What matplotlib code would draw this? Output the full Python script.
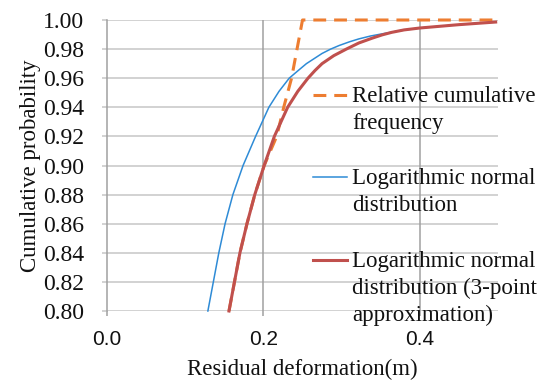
import numpy as np
import matplotlib
matplotlib.use('Agg')
from matplotlib import pyplot as plt
from matplotlib.lines import Line2D

# data
freq_x = [0.156, 0.163, 0.170, 0.179, 0.189, 0.201, 0.209, 0.217, 0.226, 0.236, 0.243, 0.250, 0.500]
freq_y = [0.80, 0.82, 0.84, 0.86, 0.88, 0.90, 0.91, 0.92, 0.94, 0.96, 0.98, 1.00, 1.00]

logn_x = [0.129, 0.136, 0.143, 0.151, 0.161, 0.174, 0.190, 0.207, 0.220, 0.233, 0.245, 0.255, 0.265,
          0.275, 0.286, 0.297, 0.310, 0.322, 0.337, 0.352, 0.375, 0.400, 0.450, 0.497]
logn_y = [0.80, 0.82, 0.84, 0.86, 0.88, 0.90, 0.92, 0.94, 0.951, 0.960, 0.9655, 0.970, 0.9735,
          0.977, 0.980, 0.9825, 0.985, 0.987, 0.989, 0.9905, 0.9927, 0.9945, 0.9968, 0.9986]

logn3_x = [0.156, 0.163, 0.170, 0.179, 0.189, 0.201, 0.214, 0.231, 0.244, 0.257, 0.266, 0.275, 0.290,
           0.306, 0.322, 0.339, 0.352, 0.364, 0.380, 0.400, 0.450, 0.497]
logn3_y = [0.80, 0.82, 0.84, 0.86, 0.88, 0.90, 0.92, 0.94, 0.951, 0.960, 0.9653, 0.970, 0.9755,
           0.980, 0.9842, 0.9875, 0.9898, 0.9915, 0.9932, 0.9945, 0.9968, 0.9986]

x_ticks = [0.0, 0.2, 0.4]
x_ticklabels = ['0.0', '0.2', '0.4']
y_ticks = [0.80, 0.82, 0.84, 0.86, 0.88, 0.90, 0.92, 0.94, 0.96, 0.98, 1.00]

labels = ['Relative cumulative\nfrequency',
          'Logarithmic normal\ndistribution',
          'Logarithmic normal\ndistribution (3-point\napproximation)']

c_orange = '#ED7D31'
c_blue = '#2E8BD6'
c_red = '#C0504D'
c_hgrid = '#c6c6c6'
c_vgrid = '#a0a0a0'
c_text = '#111111'

W, H = 544, 381
fig = plt.figure(figsize=(W / 100, H / 100), dpi=100)
ax = fig.add_axes([107 / W, 1 - 311 / H, 391 / W, 291 / H])

ax.set_xlim(0, 0.5)
ax.set_ylim(0.80, 1.00)

# grid
for yv in y_ticks:
    ax.axhline(yv, color=c_hgrid, lw=1.1, zorder=0)
for xv in x_ticks[1:]:
    ax.axvline(xv, color=c_vgrid, lw=1.1, zorder=0)

ax.plot(freq_x, freq_y, color=c_orange, lw=2.2, dashes=(4.2, 2.6), zorder=2, clip_on=False)
ax.plot(logn_x, logn_y, color=c_blue, lw=1.1, zorder=3, clip_on=False)
ax.plot(logn3_x, logn3_y, color=c_red, lw=2.2, zorder=4, clip_on=False)

for s in ['top', 'right', 'bottom']:
    ax.spines[s].set_visible(False)
ax.spines['left'].set_color(c_vgrid)
ax.spines['left'].set_linewidth(1.1)

ax.set_xticks(x_ticks)
ax.set_xticklabels(x_ticklabels, fontfamily='Liberation Sans', fontsize=15)
ax.set_yticks(y_ticks)
ax.set_yticklabels(['%.2f' % v for v in y_ticks], fontfamily='Liberation Serif', fontsize=17)
ax.tick_params(axis='y', length=3.6, width=1.1, color=c_hgrid, pad=13, labelcolor=c_text)
ax.tick_params(axis='x', length=3.6, width=1.1, color=c_vgrid, pad=10, labelcolor=c_text)

ax.set_xlabel('Residual deformation(m)', fontfamily='Liberation Serif', fontsize=16.5, color=c_text)
ax.xaxis.set_label_coords(0.5, -0.165)
ax.xaxis.label.set_va('top')
ax.set_ylabel('Cumulative probability', fontfamily='Liberation Serif', fontsize=16.5, color=c_text)
ax.yaxis.set_label_coords(-0.17, 0.5)

# legend, handles level with first text line
leg_rows = [(95, c_orange, 2.2, (4.2, 2.6)), (177, c_blue, 1.1, None), (260, c_red, 2.2, None)]
for (py, col, lw, dsh), lab in zip(leg_rows, labels):
    yy = 1 - py / H
    ln = Line2D([313 / W, 347 / W], [yy, yy], color=col, lw=lw, transform=fig.transFigure)
    if dsh is not None:
        ln.set_dashes(dsh)
    fig.add_artist(ln)
    fig.text(352 / W, 1 - (py - 9) / H, lab, fontfamily='Liberation Serif', fontsize=16.5,
             va='top', ha='left', color=c_text, linespacing=1.36)

fig.savefig('out.png', dpi=100)
